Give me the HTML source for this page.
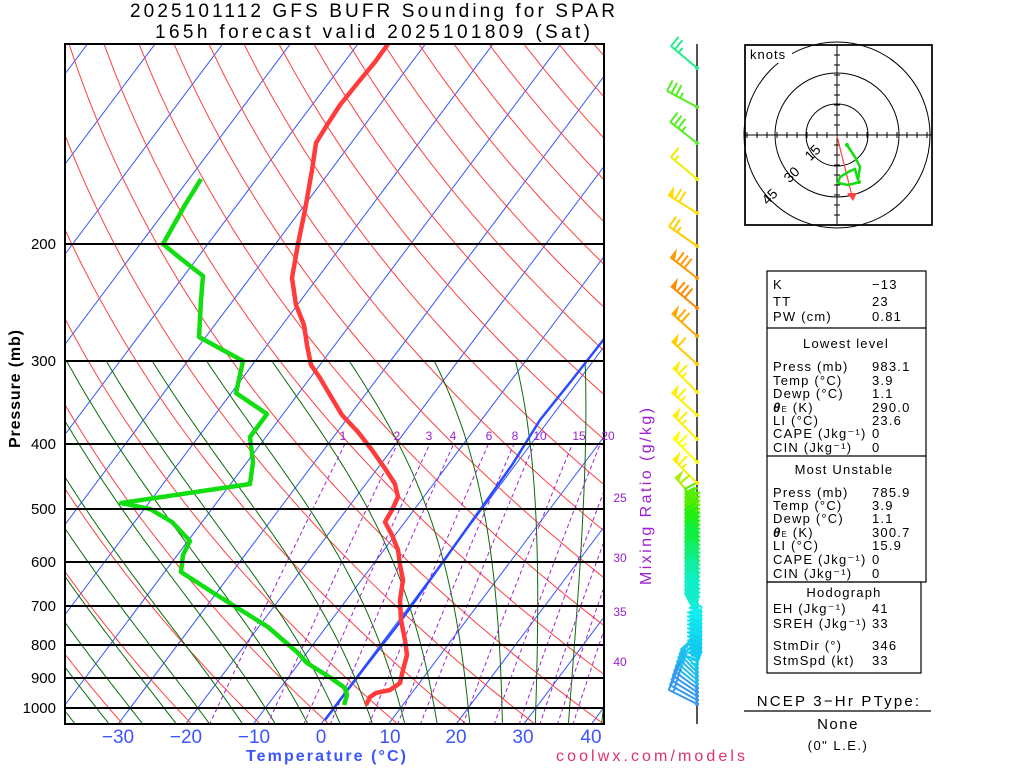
<!DOCTYPE html>
<html><head><meta charset="utf-8"><style>
html,body{margin:0;padding:0;background:#fff;width:1024px;height:768px;overflow:hidden;}
svg{display:block;font-family:"Liberation Sans",sans-serif;}
</style></head><body>
<svg id="s" width="1024" height="768" viewBox="0 0 1024 768" xmlns="http://www.w3.org/2000/svg">
<defs><clipPath id="pc"><rect x="65" y="44" width="539" height="680"/></clipPath></defs>
<rect width="1024" height="768" fill="#fff"/>
<g id="bg" clip-path="url(#pc)"></g>
<g id="prof" clip-path="url(#pc)">
<polyline fill="none" stroke="#2b4bff" stroke-width="2.5" points="325,720 362,671 400,622 440,566 480,510 512,465 540,420 572,380 604,339"/>
<polyline fill="none" stroke="#ff3b3b" stroke-width="4.5" stroke-linejoin="round" points="388,44 375,62 356,85 340,105 327,125 316,143 312,170 305,210 298,244 292,278 296,305 304,325 307,345 311,365 320,378 330,395 342,415 358,432 372,450 386,470 395,484 398,497 392,510 385,522 392,535 398,550 400,565 403,580 400,600 401,620 405,640 407,655 403,670 400,683 390,690 376,693 370,697 366,705"/>
<polyline fill="none" stroke="#11dd11" stroke-width="4.5" stroke-linejoin="round" points="201,179 185,205 163,244 180,258 203,276 201,300 199,337 243,361 236,393 267,414 250,437 253,462 250,484 121,503 150,509 172,522 190,541 183,555 181,572 212,592 244,612 268,627 283,640 297,652 307,663 331,678 345,688 347,695 344,705"/>
</g>
<g stroke="#000" stroke-width="2">
<line x1="65" y1="244" x2="604" y2="244"/><line x1="65" y1="361" x2="604" y2="361"/>
<line x1="65" y1="444" x2="604" y2="444"/><line x1="65" y1="509" x2="604" y2="509"/>
<line x1="65" y1="562" x2="604" y2="562"/><line x1="65" y1="606" x2="604" y2="606"/>
<line x1="65" y1="645" x2="604" y2="645"/><line x1="65" y1="678" x2="604" y2="678"/>
<line x1="65" y1="708" x2="604" y2="708"/>
</g>
<rect x="65" y="44" width="539" height="680" fill="none" stroke="#000" stroke-width="2"/>
<g font-size="15" text-anchor="end" fill="#000">
<text x="56" y="249">200</text><text x="56" y="366">300</text><text x="56" y="449">400</text><text x="56" y="514">500</text><text x="56" y="567">600</text><text x="56" y="611">700</text><text x="56" y="650">800</text><text x="56" y="683">900</text><text x="56" y="713">1000</text>
</g>
<text transform="translate(20,389) rotate(-90)" font-size="16" font-weight="bold" text-anchor="middle" textLength="118">Pressure (mb)</text>
<g font-size="19" fill="#3d55ff" text-anchor="middle">
<text x="118" y="743">−30</text><text x="186" y="743">−20</text><text x="254" y="743">−10</text><text x="321" y="743">0</text><text x="390" y="743">10</text><text x="456" y="743">20</text><text x="523" y="743">30</text><text x="591" y="743">40</text>
</g>
<text x="246" y="761" font-size="16" font-weight="bold" fill="#3d55ff" textLength="160">Temperature (°C)</text>
<g font-size="19" fill="#000">
<text x="130" y="17" textLength="485">2025101112 GFS BUFR Sounding for SPAR</text>
<text x="155" y="38" textLength="435">165h forecast valid 2025101809 (Sat)</text>
</g>
<text x="556" y="761" font-size="16" fill="#e03070" textLength="189">coolwx.com/models</text>
<g font-size="12" fill="#9a20d0" text-anchor="middle">
<text x="343" y="440">1</text><text x="397" y="440">2</text><text x="429" y="440">3</text><text x="453" y="440">4</text><text x="489" y="440">6</text><text x="515" y="440">8</text><text x="540" y="440">10</text><text x="579" y="440">15</text><text x="608" y="440">20</text>
<text x="620" y="502">25</text><text x="620" y="562">30</text><text x="620" y="616">35</text><text x="620" y="666">40</text>
</g>
<text transform="translate(651,585) rotate(-90)" font-size="16" fill="#a020d0" textLength="177">Mixing Ratio (g/kg)</text>
<line x1="697" y1="44" x2="697" y2="724" stroke="#555" stroke-width="2"/>
<g id="barbs"></g>
<rect x="745" y="45" width="187" height="180" fill="#fff" stroke="#000" stroke-width="1.5"/>
<g fill="none" stroke="#000" stroke-width="1">
<circle cx="837" cy="135" r="31"/><circle cx="837" cy="135" r="62"/><circle cx="837" cy="135" r="93"/>
<line x1="745" y1="135" x2="932" y2="135"/><line x1="837" y1="45" x2="837" y2="225"/>
</g>
<g id="hticks" stroke="#000" stroke-width="1"></g>
<rect x="745" y="45" width="187" height="180" fill="none" stroke="#000" stroke-width="1.5"/>
<rect x="748" y="47" width="44" height="16" fill="#fff"/>
<text x="750" y="59" font-size="13" letter-spacing="1">knots</text>
<g font-size="14" text-anchor="middle">
<text transform="translate(816,156) rotate(-45)">15</text>
<text transform="translate(795,178) rotate(-45)">30</text>
<text transform="translate(773,200) rotate(-45)">45</text>
</g>
<line x1="837" y1="136" x2="852" y2="196" stroke="#ff4444" stroke-width="1.2"/>
<polygon points="847,193 857,193 853,201" fill="#ff4444"/>
<polyline fill="none" stroke="#11dd11" stroke-width="2.5" points="847,145 855,157 860,167 858,180 855,169 850,171 840,177 838,183 848,185 856,183 859,182"/>
<circle cx="847" cy="145" r="2" fill="#11dd11"/><circle cx="859" cy="182" r="2" fill="#11dd11"/>
<g fill="none" stroke="#000" stroke-width="1.2">
<rect x="767" y="271" width="159" height="311"/>
<line x1="767" y1="328" x2="926" y2="328"/><line x1="767" y1="456" x2="926" y2="456"/>
<rect x="767" y="582" width="154" height="91"/>
<line x1="744" y1="711" x2="931" y2="711"/>
</g>
<g font-size="13" fill="#000" letter-spacing="1.2">
<text x="773" y="289">K</text><text x="872" y="289">−13</text>
<text x="773" y="306">TT</text><text x="872" y="306">23</text>
<text x="773" y="321">PW (cm)</text><text x="872" y="321">0.81</text>
<text x="846" y="348" text-anchor="middle">Lowest level</text>
<text x="773" y="371">Press (mb)</text><text x="872" y="371">983.1</text>
<text x="773" y="385">Temp (°C)</text><text x="872" y="385">3.9</text>
<text x="773" y="398">Dewp (°C)</text><text x="872" y="398">1.1</text>
<text x="773" y="412"><tspan font-weight="bold" font-style="italic">θ</tspan><tspan font-size="8">E</tspan> (K)</text><text x="872" y="412">290.0</text>
<text x="773" y="425">LI (°C)</text><text x="872" y="425">23.6</text>
<text x="773" y="438">CAPE (Jkg⁻¹)</text><text x="872" y="438">0</text>
<text x="773" y="452">CIN (Jkg⁻¹)</text><text x="872" y="452">0</text>
<text x="844" y="474" text-anchor="middle">Most Unstable</text>
<text x="773" y="497">Press (mb)</text><text x="872" y="497">785.9</text>
<text x="773" y="510">Temp (°C)</text><text x="872" y="510">3.9</text>
<text x="773" y="523">Dewp (°C)</text><text x="872" y="523">1.1</text>
<text x="773" y="537"><tspan font-weight="bold" font-style="italic">θ</tspan><tspan font-size="8">E</tspan> (K)</text><text x="872" y="537">300.7</text>
<text x="773" y="550">LI (°C)</text><text x="872" y="550">15.9</text>
<text x="773" y="564">CAPE (Jkg⁻¹)</text><text x="872" y="564">0</text>
<text x="773" y="578">CIN (Jkg⁻¹)</text><text x="872" y="578">0</text>
<text x="844" y="597" text-anchor="middle">Hodograph</text>
<text x="773" y="613">EH (Jkg⁻¹)</text><text x="872" y="613">41</text>
<text x="773" y="628">SREH (Jkg⁻¹)</text><text x="872" y="628">33</text>
<text x="773" y="650">StmDir (°)</text><text x="872" y="650">346</text>
<text x="773" y="665">StmSpd (kt)</text><text x="872" y="665">33</text>
</g>
<g font-size="15" text-anchor="middle" fill="#000" letter-spacing="1.5">
<text x="839" y="706" letter-spacing="2.2">NCEP 3−Hr PType:</text>
<text x="838" y="729">None</text>
<text x="838" y="750" font-size="13">(0" L.E.)</text>
</g>
</svg>
<script>
(function(){
var NS="http://www.w3.org/2000/svg";
function el(p,t,a){var e=document.createElementNS(NS,t);for(var k in a)e.setAttribute(k,a[k]);p.appendChild(e);return e;}
var bg=document.getElementById('bg');
function Y(p){return 708+288.3*Math.log(p/1000);}
function X(T,p){var y=Y(p);return 321+6.76*T+0.75*(724-y);}
function poly(pts,st,w,dash){var a={fill:"none",stroke:st,"stroke-width":w,points:pts.join(" ")};if(dash)a["stroke-dasharray"]=dash;el(bg,"polyline",a);}
for(var T=-150;T<=50;T+=10){poly([X(T,1060).toFixed(1)+","+Y(1060).toFixed(1),X(T,100).toFixed(1)+","+Y(100).toFixed(1)],"#3355ff",1);}
for(var th=200;th<=560;th+=10){var pts=[];for(var p=1060;p>=100;p-=10){var T=th*Math.pow(p/1000,0.286)-273.15;pts.push(X(T,p).toFixed(1)+","+Y(p).toFixed(1));}poly(pts,"#ff4040",1);}
function es(T){return 6.112*Math.exp(17.67*T/(T+243.5));}
function dTdp(T,p){var Tk=T+273.15;var rs=0.622*es(T)/(p-es(T));return (287*Tk+2.5e6*rs)/(p*(1004+6.25e12*rs*0.622/(287*Tk*Tk)));}
for(var T0=-40;T0<=40;T0+=5){var T=T0,pts=[],p;
 for(p=1000;p>300;p-=5){pts.push(X(T,p).toFixed(1)+","+Y(p).toFixed(1));T-=dTdp(T,p)*5;}
 pts.push(X(T,300).toFixed(1)+","+Y(300).toFixed(1));
 var T2=T0,down=[];for(p=1000;p<1060;p+=5){T2+=dTdp(T2,p)*5;down.push(X(T2,p+5).toFixed(1)+","+Y(p+5).toFixed(1));}
 poly(down.reverse().concat(pts),"#0a6a0a",1);}
[1,2,3,4,6,8,10,15,20,25,30,35,40].forEach(function(w){var pts=[];for(var p=1060;p>=400;p-=20){var e=w*p/(622+w);var l=Math.log(e/6.112);var Td=243.5*l/(17.67-l);pts.push(X(Td,p).toFixed(1)+","+Y(p).toFixed(1));}poly(pts,"#a020d0",1,"4,3");});
var g=document.getElementById('barbs');
function barb(y,col,ang,n,half,flag,len){var a=ang*Math.PI/180;var dx=-Math.sin(a),dy=-Math.cos(a);len=len||34;
 var ex=697+dx*len,ey=y+dy*len;el(g,"line",{x1:697,y1:y,x2:ex,y2:ey,stroke:col,"stroke-width":2});
 var fx=-dy, fy=dx; if(fy>0){fx=-fx;fy=-fy;}
 var pos=0;
 if(flag){var cx=ex-dx*6,cy=ey-dy*6;el(g,"polygon",{points:ex+","+ey+" "+(ex+fx*11)+","+(ey+fy*11)+" "+cx+","+cy,fill:col});pos=8;}
 for(var i=0;i<n;i++){var bx=ex-dx*(pos+i*5),by=ey-dy*(pos+i*5);el(g,"line",{x1:bx,y1:by,x2:bx+fx*12,y2:by+fy*12,stroke:col,"stroke-width":2});}
 if(half){var bx=ex-dx*(pos+n*5),by=ey-dy*(pos+n*5);el(g,"line",{x1:bx,y1:by,x2:bx+fx*6,y2:by+fy*6,stroke:col,"stroke-width":2});}
 el(g,"circle",{cx:697,cy:y,r:2,fill:col});}
var top=[[68,"#22ee88",50,2,1,0],[107,"#55ee22",62,3,1,0],[143,"#55ee22",52,3,1,0],[179,"#eeee00",50,1,1,0],[213,"#ffdd00",58,2,0,1],[246,"#ffcc00",55,2,1,0],[278,"#ff9900",52,3,0,1],[308,"#ff8800",50,3,0,1],[336,"#ffaa00",48,2,0,1],[364,"#ffcc00",48,1,0,1],[392,"#ffee00",45,1,1,1],[415,"#ffee00",48,1,1,1],[439,"#ffee00",45,1,1,1],[462,"#ffff00",45,1,1,1],[483,"#ffee00",45,1,1,1],[503,"#aaee00",40,1,0,1]];
top.forEach(function(b){barb(b[0],b[1],b[2],b[3],b[4],b[5]);});
var cols=["#55ee00","#22ee11","#11ee44","#11ee77","#11eeaa","#11eecc","#11eeee","#11ddee","#11ccee","#22bbee","#3399ee"];
for(var y=512;y<=704;y+=4){var t=(y-512)/192;var ci=Math.min(cols.length-1,Math.floor(t*cols.length));
 var ang=28,len=26;
 if(y>=620&&y<665){ang=-20;len=14;}
 if(y>=665){ang=40+(y-665)*0.6;len=24+(y-665)*0.2;}
 barb(y,cols[ci],ang,y<665?3:1,1,0,len);}
var h=document.getElementById('hticks');
for(var i=-9;i<=9;i++){if(i==0)continue;var d=i*10;el(h,"line",{x1:837+d,y1:132,x2:837+d,y2:138});el(h,"line",{x1:834,y1:135+d,x2:840,y2:135+d});}
})();
</script>
</body></html>
